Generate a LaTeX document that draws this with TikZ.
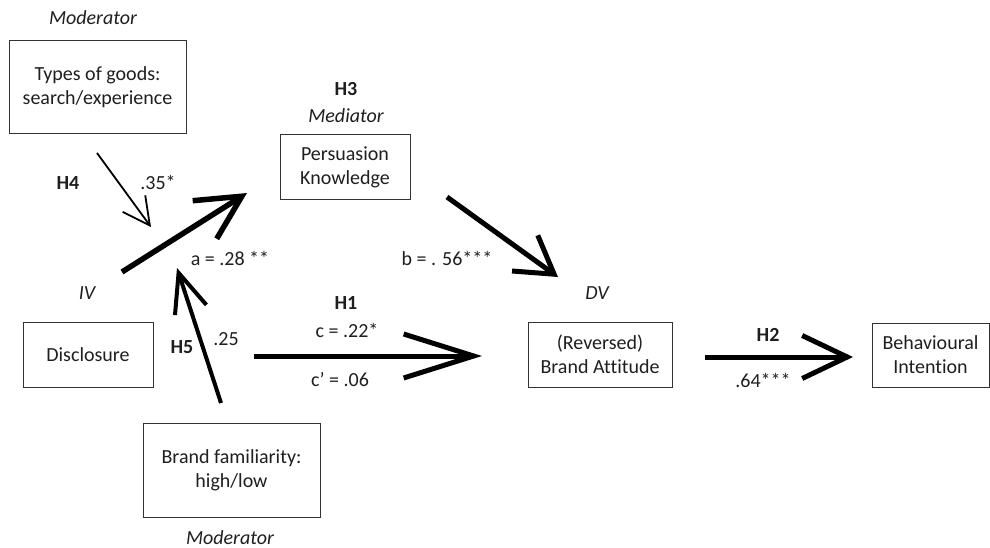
\documentclass[tikz,border=0pt]{standalone}
\usepackage{fontspec}
\setmainfont{Carlito}[Ligatures=NoCommon]
\usetikzlibrary{arrows.meta}
\begin{document}
\begin{tikzpicture}[x=1pt,y=-1pt,
  every node/.style={text=black!88},
  txt/.style={font=\fontsize{20}{24}\selectfont, inner sep=0pt, anchor=center},
  itxt/.style={txt, font=\fontsize{20}{24}\selectfont\itshape},
  btxt/.style={txt, font=\fontsize{20}{24}\selectfont\bfseries},
  box/.style={draw=black!80, line width=1pt, txt, align=center, minimum width=#1},
  conn/.style={draw=black, line cap=butt}
]
\useasboundingbox[fill=white] (0,0) rectangle (990,548);

% boxes
\node[box=177pt, minimum height=93pt] (types) at (97.5,87.5) {Types of goods:\\search/experience};
\node[box=130pt, minimum height=65pt] (pk) at (345,167.5) {Persuasion\\Knowledge};
\node[box=130pt, minimum height=65pt] (disc) at (88,354.5) {Disclosure};
\node[box=177pt, minimum height=94pt] (fam) at (231.5,470) {Brand familiarity:\\high/low};
\node[box=144pt, minimum height=65pt] (ba) at (600,354.5) {(Reversed)\\Brand Attitude};
\node[box=117pt, minimum height=64pt] (bi) at (930.5,355) {Behavioural\\Intention};

% labels
\node[itxt] (modtop) at (93,18) {Moderator};
\node[btxt] (h3) at (346,89) {H3};
\node[itxt] (med) at (346,116) {Mediator};
\node[btxt] (h4) at (68,183) {H4};
\node[txt] (l35) at (158,182) {.35*};
\node[txt] (la) at (230,258) {a = .28 **};
\node[itxt] (iv) at (87,293) {IV};
\node[btxt] (h5) at (182,347) {H5};
\node[txt] (l25) at (226,339) {.25};
\node[btxt] (h1) at (346,303) {H1};
\node[txt] (lc) at (347,330) {c = .22*};
\node[txt] (lcp) at (340,380) {c’ = .06};
\node[itxt] (modbot) at (230,538) {Moderator};
\node[txt] (lb) at (447,258) {b = . 56***};
\node[itxt] (dv) at (597,293) {DV};
\node[btxt] (h2) at (768,335) {H2};
\node[txt] (l64) at (763,380) {.64***};

% arrow end points
\coordinate (h4s) at (97,153);
\coordinate (h4e) at (151,227);
\coordinate (as) at (122,272);
\coordinate (ae) at (247,193);
\coordinate (h5s) at (221,403);
\coordinate (h5e) at (177,268);
\coordinate (bs) at (447,197);
\coordinate (be) at (558,277);
\coordinate (h1s) at (254,356);
\coordinate (h1e) at (482,356);
\coordinate (h2s) at (705,357);
\coordinate (h2e) at (853,357);

\draw[conn, line width=1.8pt, -{Straight Barb[length=27pt, width=28pt]}] (h4s) -- (h4e);
\draw[conn, line width=5.5pt, -{Straight Barb[length=44pt, width=45pt]}] (as) -- (ae);
\draw[conn, line width=4pt, -{Straight Barb[length=39pt, width=33pt]}] (h5s) -- (h5e);
\draw[conn, line width=5pt, -{Straight Barb[length=36pt, width=44pt]}] (bs) -- (be);
\draw[conn, line width=5pt, -{Straight Barb[length=70pt, width=44pt]}] (h1s) -- (h1e);
\draw[conn, line width=5pt, -{Straight Barb[length=45pt, width=43pt]}] (h2s) -- (h2e);
\end{tikzpicture}
\end{document}
